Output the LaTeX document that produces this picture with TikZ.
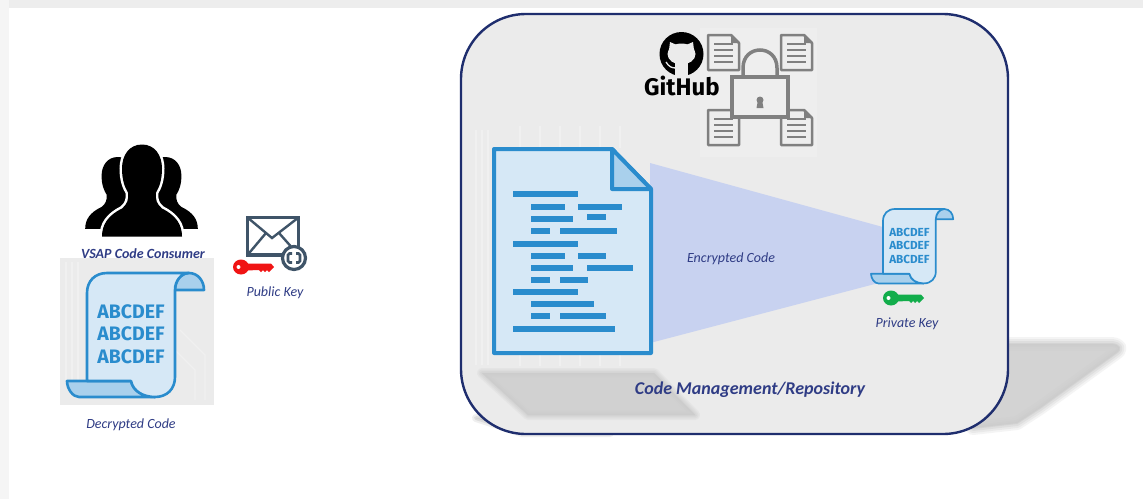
\documentclass[tikz,border=0pt]{standalone}
\usepackage{fontspec}
\setmainfont{Carlito}
\newfontfamily\logofont{Fira Sans}
\newfontfamily\scrollfont{Fira Sans}
\definecolor{panelgray}{HTML}{EBEBEB}
\definecolor{paneledge}{HTML}{1F2E6E}
\definecolor{labelblue}{HTML}{2F3C85}
\definecolor{iconblue}{HTML}{2A8CCD}
\definecolor{iconlight}{HTML}{D6E8F6}
\definecolor{icondark}{HTML}{A9D0EC}
\definecolor{conecolor}{HTML}{C8D2F0}
\definecolor{slate}{HTML}{3F5468}
\definecolor{lockgray}{HTML}{808080}
\definecolor{keyred}{HTML}{F01414}
\definecolor{keygreen}{HTML}{12AD4B}
\tikzset{
    caption/.style={font=\itshape\fontsize{14}{16}\selectfont, text=labelblue, inner sep=0pt},
    boldcaption/.style={font=\bfseries\itshape\fontsize{14}{16}\selectfont, text=labelblue, inner sep=0pt},
    scrolltext/.style={font=\scrollfont\bfseries\fontsize{19.5}{21}\selectfont, text=iconblue, inner sep=0pt, transform shape},
    codebar/.style={line width=6pt, draw=iconblue},
    softshadow/.style={fill=#1, draw=#1, line join=round},
    circuit/.style={draw=white, line width=1.2pt, opacity=.25},
    pics/scrollpic/.style={code={
        \begin{scope}[draw=iconblue, line width=#1, line join=round]
        % tail, curl, then the sheet on top
        \filldraw[fill=icondark] (44,108) .. controls (46,118) and (56,124) .. (68,124) -- (-8,124) .. controls (-14,124) and (-20,116) .. (-20,108) -- cycle;
        \filldraw[fill=icondark] (88,17) .. controls (88,8) and (94,0) .. (102,0) .. controls (111,0) and (117,8) .. (117,17) -- cycle;
        \filldraw[fill=iconlight] (0,108) -- (0,20) .. controls (0,8) and (8,0) .. (20,0) -- (102,0) .. controls (94,0) and (88,8) .. (88,17) -- (88,104) .. controls (88,116) and (80,124) .. (68,124) .. controls (56,124) and (46,118) .. (44,108) -- cycle;
        \end{scope}
        \node[scrolltext] at (44,39) {ABCDEF};
        \node[scrolltext] at (44,61) {ABCDEF};
        \node[scrolltext] at (44,84) {ABCDEF};
    }},
    pics/keypic/.style={code={
        \fill[#1] (0,0) ellipse [x radius=8, y radius=7.5];
        \fill[#1] (5,-3.5) -- (30,-3.5) -- (33,0) -- (30,3) -- (28,5) -- (26,3) -- (24,5) -- (22,3) -- (20,5) -- (18,3) -- (5,3.5) -- cycle;
        \fill[white] (-2.5,0) circle [radius=2];
    }},
    pics/personpic/.style={code={
        \path[fill=black, preaction={draw=white, line width=#1}] (0,0) .. controls (13,0) and (20,11) .. (20,24) .. controls (20,36) and (17,43) .. (14,48) .. controls (13,55) and (15,60) .. (20,64) .. controls (34,71) and (40,80) .. (40,92) -- (-40,92) .. controls (-40,80) and (-34,71) .. (-20,64) .. controls (-15,60) and (-13,55) .. (-14,48) .. controls (-17,43) and (-20,36) .. (-20,24) .. controls (-20,11) and (-13,0) .. (0,0) -- cycle;
    }},
    pics/sheetpic/.style={code={
        \draw[lockgray, line width=2.5pt, line join=round] (0,0) -- (23,0) -- (31,8) -- (31,35) -- (0,35) -- cycle;
        \fill[lockgray] (23,0) -- (31,8) -- (23,8) -- cycle;
        \foreach \yl in {9,15,21,27}
            \draw[lockgray, line width=1.2pt] (6,\yl) -- (25,\yl);
    }},
}
\begin{document}
\begin{tikzpicture}[x=1pt, y=-1pt]
    \useasboundingbox (0,0) rectangle (1143,499);
    % window edge
    \fill[white] (0,0) rectangle (1143,499);
    \fill[black!7] (9,0) rectangle (1143,8);
    \fill[black!4] (0,0) rectangle (9,499);

    % shadows behind the panel
    \foreach \lw/\op in {14/.2, 10/.25, 6/.35, 2/.6} {
        \filldraw[softshadow=black!20, line width=\lw pt, opacity=\op]
            (1000,344) -- (1112,344) .. controls (1120,345) and (1122,349) .. (1116,353) -- (1040,408) -- (1017,423) -- (973,428) -- cycle;
    }
    \foreach \lw/\op in {8/.2, 4/.3} {
        \filldraw[softshadow=black!30, line width=\lw pt, opacity=\op]
            (476,418) -- (522,433) -- (610,433) -- (520,426) -- cycle;
    }

    % panel
    \draw[paneledge, fill=panelgray, line width=2.4pt, rounded corners=65pt] (461,14) rectangle (1008,434);

    % shadow of the big sheet
    \foreach \lw/\op in {10/.2, 7/.25, 4/.3, 1/.5} {
        \filldraw[softshadow=black!20, line width=\lw pt, opacity=\op]
            (482,373) -- (654,373) -- (695,415) -- (528,415) -- cycle;
    }

    % circuit marks behind the big sheet
    \foreach \xa in {476,482,488}
        \draw[circuit] (\xa,130) -- (\xa,365);
    \foreach \xa in {520,540,560,580,600,620}
        \draw[circuit] (\xa,126) -- (\xa,148) (\xa,355) -- (\xa,366);

    % github and lock picture
    \fill[black!6.5] (700,28) rectangle (817,157);
    \pic at (708,35) {sheetpic};
    \pic at (781,35) {sheetpic};
    \pic at (708,110) {sheetpic};
    \pic at (781,110) {sheetpic};
    \draw[lockgray, line width=3.5pt] (743,78) -- (743,68) .. controls (743,44) and (777,44) .. (777,68) -- (777,78);
    \filldraw[draw=lockgray, fill=black!6.5, line width=3.5pt] (732,77) rectangle (788,117);
    \fill[lockgray] (760,100) circle [radius=3.5];
    \fill[lockgray] (758,100) -- (762,100) -- (763.5,108) -- (756.5,108) -- cycle;

    % octocat
    \fill[black] (681.5,54) circle [radius=22];
    \fill[panelgray] (681.5,54) ellipse [x radius=14, y radius=10.5];
    \fill[panelgray] (669,50) -- (670,42) -- (677,45) -- cycle;
    \fill[panelgray] (694,50) -- (693,42) -- (686,45) -- cycle;
    \fill[panelgray] (675,60) -- (688,60) -- (688,77) -- (675,77) -- cycle;
    \draw[panelgray, line width=1.3pt] (666,62) .. controls (669,67) and (672,68) .. (676,68);
    \node[inner sep=0pt, font=\logofont\bfseries\fontsize{24}{26}\selectfont] (github) at (682,85.5) {GitHub};

    % cone from the big sheet to the small scroll
    \fill[conecolor] (650,163) -- (890,229) -- (890,280) -- (650,343) -- cycle;

    % big sheet
    \filldraw[draw=iconblue, fill=iconlight, line width=4pt, line join=round]
        (494,149) -- (612,149) -- (651,189) -- (651,353) -- (494,353) -- cycle;
    \filldraw[draw=iconblue, fill=icondark, line width=4pt, line join=round]
        (612,149) -- (651,189) -- (612,189) -- cycle;
    \foreach \xa/\xb/\yb in {513/578/194, 531/565/207, 578/622/207, 531/573/219, 587/606/217,
        531/550/231, 560/617/231, 513/578/244, 531/565/256, 578/606/256, 531/573/268, 587/633/268,
        531/550/280, 560/588/280, 513/578/292, 531/594/304, 531/550/316, 560/606/316, 513/615/329}
        \draw[codebar] (\xa,\yb) -- (\xb,\yb);

    % small scroll
    \pic[scale=.6] at (883,209) {scrollpic={1.7pt}};
    \pic at (891,298) {keypic=keygreen};

    % consumer side
    \pic[xscale=.82, yscale=.78] at (118,157) {personpic=0pt};
    \pic[xscale=.82, yscale=.78] at (165,157) {personpic=0pt};
    \pic at (142,144.5) {personpic=5pt};
    \fill[panelgray] (60,258) rectangle (214,405);
    \foreach \xa in {66,72,78}
        \draw[circuit] (\xa,262) -- (\xa,380);
    \draw[circuit] (180,330) -- (205,355) -- (205,400);
    \draw[circuit] (170,345) -- (195,370) -- (195,400);
    \pic at (87,273) {scrollpic={2.6pt}};

    % envelope with public key
    \draw[slate, line width=3.4pt, line join=miter] (247.5,217.5) rectangle (298.5,255);
    \draw[slate, line width=2.4pt] (247.5,217.5) -- (272,238) -- (298.5,217.5);
    \draw[slate, line width=2.4pt] (247.5,255) -- (266,233) (298.5,255) -- (279,233);
    \filldraw[draw=slate, fill=white, line width=3.2pt] (294,258) circle [radius=11.5];
    \draw[slate, line width=2.6pt] (292,253.5) -- (289.5,253.5) -- (288,255) -- (288,261) -- (289.5,262.5) -- (292,262.5);
    \draw[slate, line width=2.6pt] (296,253.5) -- (298.5,253.5) -- (300,255) -- (300,261) -- (298.5,262.5) -- (296,262.5);
    \pic at (241,267) {keypic=keyred};

    % labels
    \node[boldcaption] (consumer) at (143,254) {VSAP Code Consumer};
    \node[caption] (publickey) at (275,292.5) {Public Key};
    \node[caption] (decrypted) at (131,425) {Decrypted Code};
    \node[caption] (encrypted) at (731,259) {Encrypted Code};
    \node[caption] (privatekey) at (907,324) {Private Key};
    \node[boldcaption, font=\bfseries\itshape\fontsize{18}{20}\selectfont] (repository) at (750,390) {Code Management/Repository};
\end{tikzpicture}
\end{document}
